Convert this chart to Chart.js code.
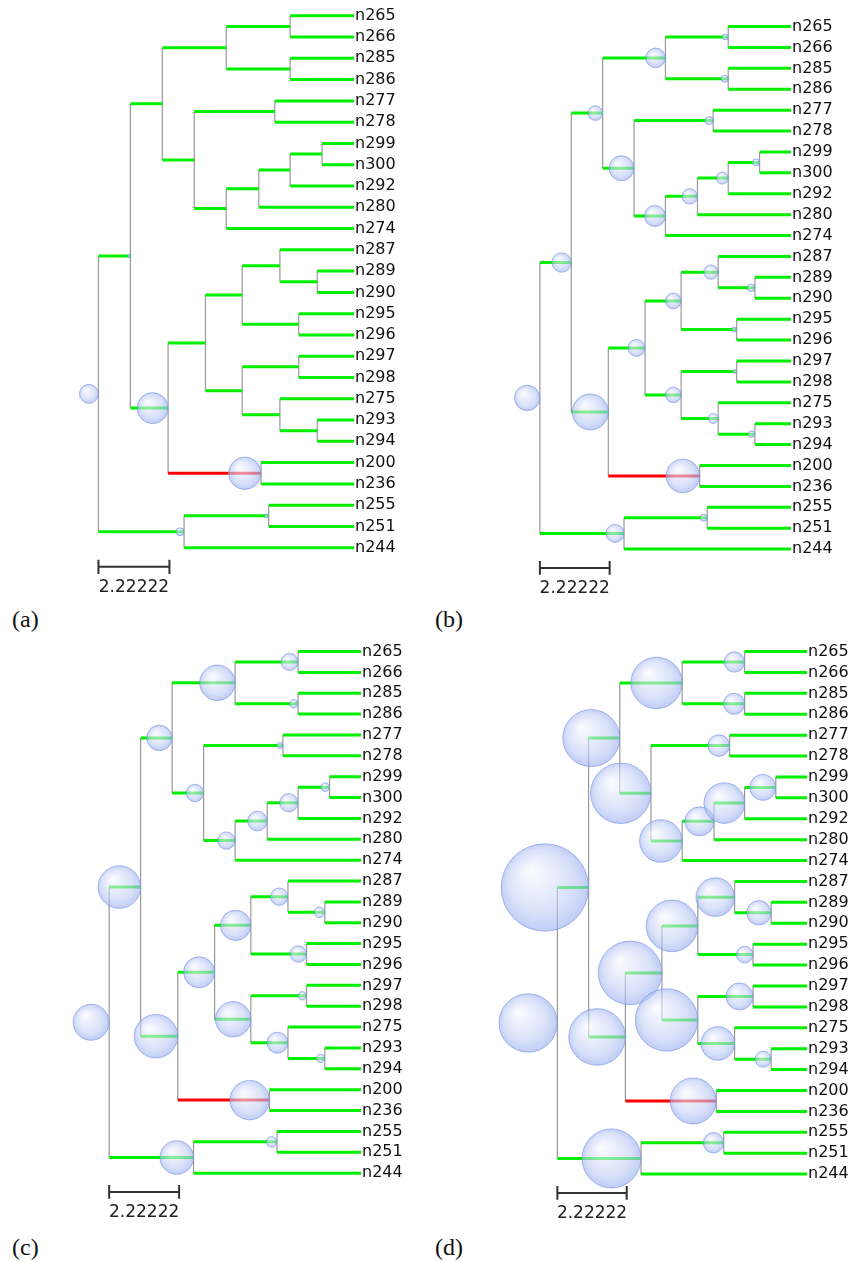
<!DOCTYPE html>
<html>
<head>
<meta charset="utf-8">
<script src="https://cdn.jsdelivr.net/npm/chart.js@4.4.1/dist/chart.umd.min.js"></script>
<style>
  body { margin: 0; background: #fff; width: 849px; height: 1262px; position: relative; overflow: hidden; }
  canvas { position: absolute; }
  .plabel { position: absolute; font-family: "Liberation Serif", serif; font-size: 24px; line-height: 1; color: #111; }
</style>
</head>
<body>
<script>
// leaves, top to bottom
const leaves = ['n265', 'n266', 'n285', 'n286', 'n277', 'n278', 'n299', 'n300', 'n292', 'n280', 'n274',
  'n287', 'n289', 'n290', 'n295', 'n296', 'n297', 'n298', 'n275', 'n293', 'n294', 'n200', 'n236',
  'n255', 'n251', 'n244'];
const leafParent = ['P1', 'P1', 'P2', 'P2', 'P3', 'P3', 'P4', 'P4', 'Q3', 'Q2', 'Q1',
  'F', 'G', 'G', 'H', 'H', 'J', 'J', 'K', 'L', 'L', 'M', 'M',
  'O', 'O', 'N'];

// internal nodes, their parent and distance from the root
const nodes      = ['root', 'A', 'B1', 'B1a', 'P1', 'P2', 'B1b', 'P3', 'Q1', 'Q2', 'Q3', 'P4', 'C', 'D', 'E', 'F', 'G', 'H', 'I', 'J', 'K', 'L', 'M', 'N', 'O'];
const nodeParent = [null, 'root', 'A', 'B1', 'B1a', 'B1a', 'B1', 'B1b', 'B1b', 'Q1', 'Q2', 'Q3', 'A', 'C', 'D', 'E', 'F', 'E', 'D', 'I', 'I', 'K', 'C', 'root', 'N'];
const nodeDepth  = [0, 1.0, 2.0, 4.0, 6.0, 6.0, 3.0, 5.52, 4.0, 5.02, 6.0, 7.0, 2.18, 3.35, 4.5, 5.68, 6.85, 6.27, 4.5, 6.27, 5.68, 6.85, 5.09, 2.68, 5.33];
const leafDepth = 8;
const redBranches = ['M'];

// bubble radius (px) on each internal node, one list per panel
const radiiA = [9.5, 1.5, 0, 0, 0, 0, 0, 0, 0, 0, 0, 0, 15.5, 0, 0, 0, 0, 0, 0, 0, 0, 0, 16.2, 4, 2];
const radiiB = [12.7, 9.7, 7.3, 9.8, 3, 3.5, 12.5, 4, 10.5, 7.7, 6, 3.5, 18, 8.5, 7.8, 7.2, 3.8, 2.5, 7.8, 2, 5, 3.3, 16.8, 9, 3.5];
const radiiC = [18, 21.3, 12.7, 17.7, 8.5, 4.2, 8.7, 3, 8.7, 9.8, 9.2, 4.3, 21.8, 15.5, 15.2, 8.7, 5.3, 8.2, 17.7, 4.2, 10.5, 4.2, 19.7, 16.8, 5.3];
const radiiD = [29.2, 43.7, 28.5, 25.7, 10.2, 10.5, 30.2, 10.8, 21.3, 14.5, 20.3, 13, 28.3, 31.8, 25.8, 19.3, 12.2, 8.3, 31.2, 13.5, 16.8, 8, 23, 29.5, 10.2];

const scaleLength = 2.22222;
const scaleLabel = '2.22222';

Chart.defaults.font.family = '"DejaVu Sans", sans-serif';

const XMIN = -2.8, YMIN = -0.6, BAR_Y = 25.9, YMAX = 26.0;
const AXIS_W = 50, AXIS_H = 28;
const GAP = {x: null, y: null};

const panels = [
  {radii: radiiA, label: '(a)', rootPx: 98.5, leafPx: 354, firstY: 16,  lastY: 548,  lx: 12,  ly: 607},
  {radii: radiiB, label: '(b)', rootPx: 540,  leafPx: 791, firstY: 27,  lastY: 549,  lx: 435, ly: 607},
  {radii: radiiC, label: '(c)', rootPx: 109,  leafPx: 361, firstY: 652, lastY: 1173, lx: 12,  ly: 1235},
  {radii: radiiD, label: '(d)', rootPx: 557,  leafPx: 807, firstY: 652, lastY: 1174, lx: 435, ly: 1235}
];

function buildTree() {
  const y = {}, depth = {}, parentOf = {}, children = {};
  leaves.forEach((n, i) => { y[n] = i; depth[n] = leafDepth; parentOf[n] = leafParent[i]; });
  nodes.forEach((n, i) => { depth[n] = nodeDepth[i]; if (nodeParent[i]) parentOf[n] = nodeParent[i]; });
  Object.keys(parentOf).forEach(c => (children[parentOf[c]] = children[parentOf[c]] || []).push(c));
  function place(n) {
    if (n in y) return y[n];
    const ys = children[n].map(place);
    y[n] = (Math.min(...ys) + Math.max(...ys)) / 2;
    return y[n];
  }
  nodes.forEach(place);

  const green = [], red = [], gray = [];
  Object.keys(parentOf).forEach(c => {
    const seg = [{x: depth[parentOf[c]], y: y[c]}, {x: depth[c], y: y[c]}, GAP];
    (redBranches.includes(c) ? red : green).push(...seg);
  });
  nodes.forEach(n => {
    const ys = children[n].map(c => y[c]);
    gray.push({x: depth[n], y: Math.min(...ys)}, {x: depth[n], y: Math.max(...ys)}, GAP);
  });
  return {y, depth, green, red, gray};
}

const tree = buildTree();

function bubbleFill(ctx) {
  const raw = ctx.raw;
  if (!raw || !raw.r) return 'rgba(170,188,240,0.55)';
  const sx = ctx.chart.scales.x, sy = ctx.chart.scales.y;
  const cx = sx.getPixelForValue(raw.x), cy = sy.getPixelForValue(raw.y), r = raw.r;
  if (!isFinite(cx) || !isFinite(cy)) return 'rgba(170,188,240,0.55)';
  const g = ctx.chart.ctx.createRadialGradient(cx - r * 0.35, cy - r * 0.4, 0, cx, cy, r * 1.05);
  g.addColorStop(0, 'rgba(250,251,255,0.6)');
  g.addColorStop(0.7, 'rgba(192,205,245,0.6)');
  g.addColorStop(1, 'rgba(155,176,238,0.68)');
  return g;
}

function lineSet(data, color, width, order) {
  return {
    type: 'scatter', data, showLine: true, spanGaps: false,
    borderColor: color, borderWidth: width, pointRadius: 0, pointHoverRadius: 0,
    clip: false, order
  };
}

panels.forEach(p => {
  const ppu = (p.leafPx - p.rootPx) / leafDepth;
  const spacing = (p.lastY - p.firstY) / (leaves.length - 1);
  const areaLeft = p.rootPx + XMIN * ppu;
  const areaTop = p.firstY + YMIN * spacing;
  const areaBottom = p.firstY + YMAX * spacing;
  const left = Math.round(areaLeft) - 2, top = Math.round(areaTop) - 12;
  const width = Math.round(p.leafPx + AXIS_W + 2 - left);
  const height = Math.round(areaBottom + AXIS_H + 2 - top);

  const canvas = document.createElement('canvas');
  canvas.width = width; canvas.height = height;
  canvas.style.left = left + 'px'; canvas.style.top = top + 'px';
  canvas.style.width = width + 'px'; canvas.style.height = height + 'px';
  document.body.appendChild(canvas);

  const lab = document.createElement('div');
  lab.className = 'plabel';
  lab.textContent = p.label;
  lab.style.left = p.lx + 'px'; lab.style.top = p.ly + 'px';
  document.body.appendChild(lab);

  const bubbles = nodes.map((n, i) => ({x: tree.depth[n], y: tree.y[n], r: p.radii[i]})).filter(b => b.r > 0);
  const d = 0.33;
  const scaleBar = [
    {x: 0, y: BAR_Y - d}, {x: 0, y: BAR_Y + d}, GAP,
    {x: 0, y: BAR_Y}, {x: scaleLength, y: BAR_Y}, GAP,
    {x: scaleLength, y: BAR_Y - d}, {x: scaleLength, y: BAR_Y + d}
  ];

  const chart = new Chart(canvas, {
    data: {
      datasets: [
        {
          type: 'bubble', data: bubbles, backgroundColor: bubbleFill,
          borderColor: 'rgba(120,146,232,0.62)', borderWidth: 1, hoverRadius: 0, clip: false, order: 0
        },
        lineSet(tree.green, '#00f000', 3, 2),
        lineSet(tree.red, '#ff0000', 3, 2),
        lineSet(tree.gray, '#999999', 1.2, 3),
        lineSet(scaleBar, '#333333', 2, 2)
      ]
    },
    options: {
      responsive: false,
      devicePixelRatio: 1,
      animation: false,
      events: [],
      layout: {
        autoPadding: false,
        padding: {left: Math.round(areaLeft) - left, top: Math.round(areaTop) - top, right: 2, bottom: 2}
      },
      plugins: {legend: {display: false}, tooltip: {enabled: false}},
      scales: {
        x: {
          type: 'linear', position: 'bottom', min: XMIN, max: leafDepth, bounds: 'data',
          grid: {display: false}, border: {display: false},
          afterFit: axis => { axis.height = AXIS_H; },
          afterBuildTicks: axis => { axis.ticks = [{value: scaleLength / 2}]; },
          ticks: {callback: () => scaleLabel, font: {size: 17}, color: '#222', padding: 0, maxRotation: 0}
        },
        y: {
          type: 'linear', position: 'right', reverse: true, min: YMIN, max: YMAX, bounds: 'data',
          grid: {display: false, drawTicks: false}, border: {display: false},
          afterFit: axis => { axis.width = AXIS_W; },
          afterBuildTicks: axis => { axis.ticks = leaves.map((_, i) => ({value: i})); },
          ticks: {callback: v => leaves[v], autoSkip: false, font: {size: 16}, color: '#111', padding: 1}
        }
      }
    }
  });

  // bubbles sit left of their node, touching it with the right edge
  const sx = chart.scales.x;
  const unit = sx.getPixelForValue(1) - sx.getPixelForValue(0);
  chart.data.datasets[0].data = bubbles.map(b => ({x: b.x - b.r / unit, y: b.y, r: b.r}));
  chart.update('none');
});
</script>
</body>
</html>
